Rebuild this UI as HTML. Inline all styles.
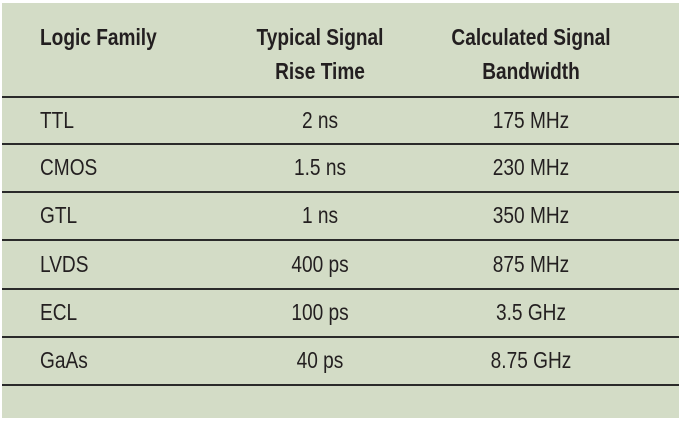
<!DOCTYPE html>
<html><head><style>
body{margin:0;width:683px;height:423px;background:#fff;position:relative;overflow:hidden;font-family:"Liberation Sans",sans-serif;color:#231f20}
#p{position:absolute;left:2px;top:3px;width:677px;height:415px;background:#d3dcc6}
.l{position:absolute;left:2px;width:677px;height:2px;background:#2a2a2a}
.t{position:absolute;font-size:23px;line-height:24px;white-space:nowrap;transform:translate(-50%,-50%) scaleX(0.83)}
.a{position:absolute;font-size:23px;line-height:24px;white-space:nowrap;transform:translateY(-50%) scaleX(0.83);transform-origin:left center}
.b{font-weight:bold}
</style></head><body>
<div id="p"></div>
<div class="l" style="top:96px"></div>
<div class="l" style="top:143px"></div>
<div class="l" style="top:191px"></div>
<div class="l" style="top:239px"></div>
<div class="l" style="top:288px"></div>
<div class="l" style="top:336px"></div>
<div class="l" style="top:384px"></div>
<div class="a b" style="left:40px;top:37px">Logic Family</div>
<div class="t b" style="left:320px;top:37px">Typical Signal</div>
<div class="t b" style="left:320px;top:71px">Rise Time</div>
<div class="t b" style="left:531px;top:37px">Calculated Signal</div>
<div class="t b" style="left:531px;top:71px">Bandwidth</div>
<div class="a" style="left:40px;top:120px">TTL</div><div class="t" style="left:320px;top:120px">2 ns</div><div class="t" style="left:531px;top:120px">175 MHz</div>
<div class="a" style="left:40px;top:167px">CMOS</div><div class="t" style="left:320px;top:167px">1.5 ns</div><div class="t" style="left:531px;top:167px">230 MHz</div>
<div class="a" style="left:40px;top:215px">GTL</div><div class="t" style="left:320px;top:215px">1 ns</div><div class="t" style="left:531px;top:215px">350 MHz</div>
<div class="a" style="left:40px;top:264px">LVDS</div><div class="t" style="left:320px;top:264px">400 ps</div><div class="t" style="left:531px;top:264px">875 MHz</div>
<div class="a" style="left:40px;top:312px">ECL</div><div class="t" style="left:320px;top:312px">100 ps</div><div class="t" style="left:531px;top:312px">3.5 GHz</div>
<div class="a" style="left:40px;top:360px">GaAs</div><div class="t" style="left:320px;top:360px">40 ps</div><div class="t" style="left:531px;top:360px">8.75 GHz</div>
</body></html>
